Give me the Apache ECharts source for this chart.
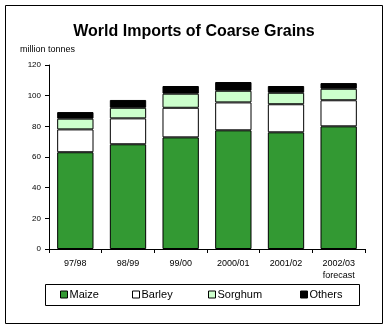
<!DOCTYPE html>
<html>
<head>
<meta charset="utf-8">
<script src="https://cdn.jsdelivr.net/npm/echarts@6/dist/echarts.min.js"></script>
<style>
  html, body { margin: 0; padding: 0; background: #fff; }
  #chart { width: 388px; height: 329px; }
</style>
</head>
<body>
<div id="chart"></div>
<script>
// marketing years on the x axis
const years = ['97/98', '98/99', '99/00', '2000/01', '2001/02', '2002/03\nforecast']

// million tonnes, stacked
const maize = [63.1, 68.3, 72.8, 77.4, 76.1, 80.0]
const barley = [14.9, 16.9, 19.3, 18.2, 18.3, 17.0]
const sorghum = [7.0, 6.9, 9.2, 7.6, 7.5, 7.5]
const others = [4.3, 5.1, 5.0, 5.7, 4.4, 3.7]

const font = 'Liberation Sans, Arial, sans-serif'

const chart = echarts.init(document.getElementById('chart'))

function bar(name, data, color) {
  return {
    name,
    type: 'bar',
    stack: 'total',
    data,
    barWidth: '69%',
    itemStyle: { color, borderColor: '#000', borderWidth: 1 },
  }
}

function legendAt(name, left) {
  return {
    data: [name],
    icon: 'rect',
    left,
    top: 289,
    itemWidth: 7,
    itemHeight: 7,
    itemGap: 0,
    padding: 0,
    selectedMode: false,
    itemStyle: { borderColor: '#000', borderWidth: 1 },
    textStyle: { fontFamily: font, fontSize: 11, color: '#000', padding: [0, 0, 0, -3] },
  }
}

chart.setOption({
  animation: false,
  title: {
    text: 'World Imports of Coarse Grains',
    left: 'center',
    top: 24,
    padding: 0,
    textStyle: { fontFamily: font, fontSize: 16, fontWeight: 'bold', color: '#000' },
  },
  graphic: [
    {
      type: 'rect',
      shape: { x: 5.5, y: 5.5, width: 377, height: 318 },
      style: { fill: 'none', stroke: '#000', lineWidth: 1 },
    },
    {
      type: 'rect',
      shape: { x: 45.5, y: 284.5, width: 314, height: 21 },
      style: { fill: 'none', stroke: '#000', lineWidth: 1 },
    },
    {
      type: 'text',
      left: 20,
      top: 45,
      style: { text: 'million tonnes', font: '9px ' + font, fill: '#000' },
    },
  ],
  legend: [
    legendAt('Maize', 60),
    legendAt('Barley', 132),
    legendAt('Sorghum', 208),
    legendAt('Others', 300),
  ],
  grid: { left: 49, right: 23, top: 65, bottom: 80 },
  xAxis: {
    type: 'category',
    data: years,
    axisLine: { lineStyle: { color: '#000', width: 1 } },
    axisTick: { show: true, length: 4, lineStyle: { color: '#000' } },
    axisLabel: {
      fontFamily: font,
      fontSize: 9,
      color: '#000',
      margin: 9,
      lineHeight: 12,
    },
  },
  yAxis: {
    type: 'value',
    min: 0,
    max: 120,
    interval: 20,
    splitLine: { show: false },
    axisLine: { show: true, lineStyle: { color: '#000', width: 1 } },
    axisTick: { show: true, length: 4, lineStyle: { color: '#000' } },
    axisLabel: { fontFamily: font, fontSize: 8, color: '#000', margin: 8 },
  },
  series: [
    bar('Maize', maize, '#339933'),
    bar('Barley', barley, '#ffffff'),
    bar('Sorghum', sorghum, '#ccffcc'),
    bar('Others', others, '#000000'),
  ],
})
</script>
</body>
</html>
